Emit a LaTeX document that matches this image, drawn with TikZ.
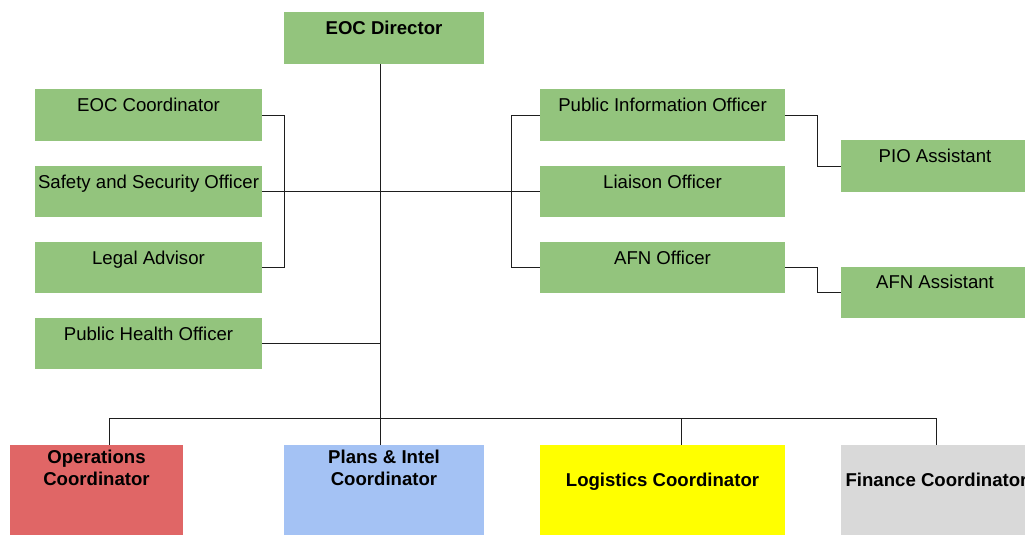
\documentclass[tikz,border=0pt]{standalone}
\usepackage{fontspec}
\setmainfont{Liberation Sans}
\definecolor{boxgreen}{HTML}{93C47D}
\definecolor{opsred}{HTML}{E06666}
\definecolor{plansblue}{HTML}{A4C2F4}
\definecolor{logyellow}{HTML}{FFFF00}
\definecolor{fingray}{HTML}{D9D9D9}
\definecolor{linecol}{HTML}{1E1E1E}
\begin{document}
\begin{tikzpicture}[x=1pt,y=-1pt,
  tbox/.style args={#1/#2}{rectangle, draw=none, fill=boxgreen, inner sep=0pt, minimum width=#1pt, minimum height=#2pt},
  lbl/.style={anchor=base, inner sep=0pt, font=\fontsize{18.6}{22}\selectfont},
  blbl/.style={anchor=base, inner sep=0pt, font=\fontsize{18.6}{22}\selectfont\bfseries},
  conn/.style={draw=linecol, line width=1pt}]
\useasboundingbox (0,0) rectangle (1025,535);
\fill[white] (0,0) rectangle (1025,535);
\clip (0,0) rectangle (1025,535);

% boxes
\node[tbox=200/52] (director) at (384,38) {};
\node[tbox=227/52] (eoccoord) at (148.5,115) {};
\node[tbox=227/51] (safety) at (148.5,191.5) {};
\node[tbox=227/51] (legal) at (148.5,267.5) {};
\node[tbox=227/51] (pho) at (148.5,343.5) {};
\node[tbox=245/52] (pio) at (662.5,115) {};
\node[tbox=245/51] (liaison) at (662.5,191.5) {};
\node[tbox=245/51] (afn) at (662.5,267.5) {};
\node[tbox=186/52] (pioa) at (934,166) {};
\node[tbox=186/51] (afna) at (934,292.5) {};
\node[tbox=173/90, fill=opsred] (ops) at (96.5,490) {};
\node[tbox=200/90, fill=plansblue] (plans) at (384,490) {};
\node[tbox=245/90, fill=logyellow] (logi) at (662.5,490) {};
\node[tbox=186/90, fill=fingray] (fin) at (934,490) {};

% labels
\node[blbl] (tdirector) at (384,35) {EOC Director};
\node[lbl] (teoccoord) at (148.5,111) {EOC Coordinator};
\node[lbl] (tsafety) at (148.5,188) {Safety and Security Officer};
\node[lbl] (tlegal) at (148.5,264) {Legal Advisor};
\node[lbl] (tpho) at (148.5,340) {Public Health Officer};
\node[lbl] (tpio) at (662.5,111) {Public Information Officer};
\node[lbl] (tliaison) at (662.5,188) {Liaison Officer};
\node[lbl] (tafn) at (662.5,264) {AFN Officer};
\node[lbl] (tpioa) at (935,162) {PIO Assistant};
\node[lbl] (tafna) at (935,288) {AFN Assistant};
\node[blbl] (tops1) at (96.5,463) {Operations};
\node[blbl] (tops2) at (96.5,485) {Coordinator};
\node[blbl] (tplans1) at (384,463) {Plans \& Intel};
\node[blbl] (tplans2) at (384,485) {Coordinator};
\node[blbl] (tlogi) at (662.5,486) {Logistics Coordinator};
\node[blbl] (tfin) at (936.5,486) {Finance Coordinator};

% connectors
\coordinate (trunktop) at ([xshift=-4pt]director.south);
\coordinate (busL) at (109,418);
\coordinate (busR) at (936,418);
\draw[conn] (trunktop) -- (trunktop |- plans.north);
\draw[conn] (ops.north -| busL) -- (busL) -- (busR) -- (fin.north -| busR);
\draw[conn] (logi.north -| 681,0) -- (681,418);
\draw[conn] (safety.east) -- (liaison.west);
\draw[conn] (eoccoord.east) -- ++(22,0) |- (legal.east);
\draw[conn] (pio.west) -- ++(-28,0) |- (afn.west);
\draw[conn] (pio.east) -- ++(32,0) |- (pioa.west);
\draw[conn] (afn.east) -- ++(32,0) |- (afna.west);
\draw[conn] (pho.east) -- (pho.east -| trunktop);
\end{tikzpicture}
\end{document}
